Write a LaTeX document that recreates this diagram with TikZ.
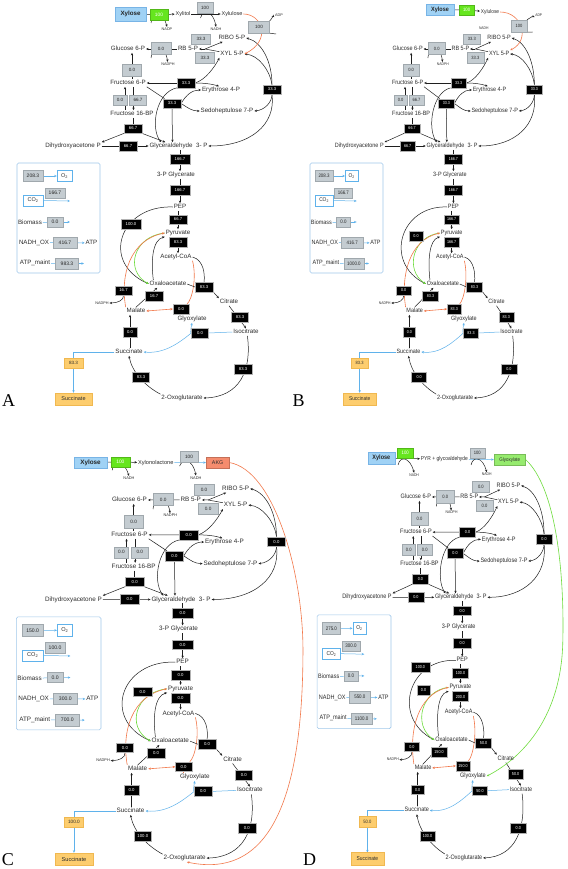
\documentclass[tikz,border=0pt]{standalone}
\usepackage{fontspec}
\setmainfont{Liberation Sans}
\newfontfamily\serifL{Liberation Serif}
\usetikzlibrary{arrows.meta,calc}
\pgfdeclarelayer{bgl}
\pgfdeclarelayer{edges}
\pgfsetlayers{bgl,edges,main}
\definecolor{orL}{RGB}{242,120,75}
\definecolor{grL}{RGB}{110,220,60}
\definecolor{blL}{RGB}{95,178,235}
\definecolor{gyF}{RGB}{196,204,209}
\definecolor{gyD}{RGB}{160,168,173}
\definecolor{xyF}{RGB}{160,210,245}
\definecolor{xyD}{RGB}{120,180,230}
\definecolor{gbF}{RGB}{102,230,30}
\definecolor{suF}{RGB}{253,205,110}
\definecolor{suD}{RGB}{240,184,80}
\definecolor{akF}{RGB}{245,140,110}
\definecolor{glF}{RGB}{150,235,110}
\definecolor{lgD}{RGB}{160,200,235}
\definecolor{txt}{RGB}{45,45,45}
\tikzset{
 lbl/.style={font=\fontsize{6.2}{7}\selectfont, text=txt, inner sep=0.8pt, text height=4.4pt, text depth=1.2pt},
 slbl/.style={font=\fontsize{5.5}{6}\selectfont, text=txt, inner sep=0.8pt, text height=3.9pt, text depth=1.1pt},
 tlbl/.style={font=\fontsize{3.8}{4.2}\selectfont, text=txt, inner sep=0.6pt},
 gbox/.style={fill=gyF, draw=gyD, line width=0.3pt, font=\fontsize{4.6}{5}\selectfont, text=black!85, inner sep=0pt, minimum width=19pt, minimum height=10.5pt},
 lgbox/.style={gbox, font=\fontsize{5}{6}\selectfont, minimum height=11pt},
 bbox/.style={fill=black, draw=gray!60, line width=0.3pt, font=\fontsize{4.2}{5}\selectfont, text=white, inner sep=0pt, minimum width=18pt, minimum height=9.5pt},
 wbox/.style={fill=white, draw=blL, line width=0.4pt, font=\fontsize{5.5}{6}\selectfont, text=txt, inner sep=0pt, minimum width=15pt, minimum height=11pt},
 xbox/.style={fill=xyF, draw=xyD, line width=0.4pt, font=\fontsize{6.2}{7}\selectfont\bfseries, text=black!85, inner sep=0pt},
 grbox/.style={fill=gbF, draw=gbF!80!black, line width=0.3pt, font=\fontsize{4.8}{5}\selectfont, text=white, inner sep=0pt, minimum width=18pt, minimum height=11pt},
 sbox/.style={fill=suF, draw=suD, line width=0.4pt, font=\fontsize{5.5}{6}\selectfont, text=txt, inner sep=0pt, minimum width=37pt, minimum height=12pt},
 slab/.style={sbox, font=\fontsize{4.6}{5}\selectfont, minimum width=19pt, minimum height=10pt},
 akbox/.style={fill=akF, draw=akF!80!black, line width=0.4pt, font=\fontsize{5.2}{6}\selectfont, text=txt, inner sep=0pt, minimum width=22.5pt, minimum height=11.3pt},
 glbox/.style={fill=glF, draw=glF!80!black, line width=0.4pt, font=\fontsize{5}{6}\selectfont, text=txt, inner sep=0pt, minimum width=35.6pt, minimum height=10.3pt},
 lframe/.style={draw=lgD, line width=0.6pt, rounded corners=1.5pt, inner sep=0pt, minimum width=83pt, minimum height=110pt},
 plet/.style={font=\serifL\fontsize{18}{20}\selectfont, inner sep=0pt},
 ln/.style={draw=black!88, line width=0.5pt},
 ar/.style={ln, -{Stealth[length=2.6pt,width=2.3pt]}},
 aro/.style={ar, draw=orL, line width=0.6pt},
 arg/.style={ar, draw=grL, line width=0.6pt},
 arb/.style={ar, draw=blL},
 lnb/.style={ln, draw=blL},
 lno/.style={ln, draw=orL, line width=0.6pt},
 dao/.style={lno, {Stealth[length=2.6pt,width=2.3pt]}-{Stealth[length=2.6pt,width=2.3pt]}},
}
\newcommand\panelbody{%
\node[lbl] (g6p) at (128,49) {Glucose 6-P};
\node[lbl] (rb5p) at (188,49) {RB 5-P};
\node[lbl] (ribo) at (232,38) {RIBO 5-P};
\node[lbl] (xyl5p) at (232,54) {XYL 5-P};
\node[lbl] (f6p) at (128,83) {Fructose 6-P};
\node[lbl] (e4p) at (221,90) {Erythrose 4-P};
\node[lbl] (s7p) at (227,111) {Sedoheptulose 7-P};
\node[lbl] (fbp) at (132,114) {Fructose 16-BP};
\node[lbl] (dhap) at (73,146) {Dihydroxyacetone P};
\node[lbl] (gap) at (178.5,146) {Glyceraldehyde\ \ 3- P};
\node[lbl] (pg) at (176,175) {3-P Glycerate};
\node[lbl] (pep) at (180,207) {PEP};
\node[lbl] (pyr) at (178,233) {Pyruvate};
\node[lbl] (accoa) at (176,257) {Acetyl-CoA};
\node[lbl] (oaa) at (168,284) {Oxaloacetate};
\node[lbl] (cit) at (229,302) {Citrate};
\node[lbl] (mal) at (136,311) {Malate};
\node[lbl] (glx) at (192,319) {Glyoxylate};
\node[lbl] (icit) at (246,332) {Isocitrate};
\node[lbl] (succ) at (129,352) {Succinate};
\node[lbl] (akg) at (182,398) {2-Oxoglutarate};
\node[tlbl] (nadphA) at (168,64) {NADPH};
\node[tlbl] (nadphB) at (102,303) {NADPH};
\node[sbox] (succbox) at (73.5,399) {Succinate};
\node[gbox] (bxRa) at (201,39) {\pvRa};
\node[gbox] (bxRb) at (205,57.5) {\pvRb};
\node[gbox, minimum width=20pt, minimum height=12pt] (bxRB) at (161,48.5) {\pvRB};
\node[gbox, minimum height=12pt] (bxG) at (132,70) {\pvGS};
\node[gbox, minimum width=14pt] (bxFB) at (120,100) {\pvFB};
\node[gbox, minimum width=17pt] (bxPF) at (138,100) {\pvPF};
\node[bbox] (tkA) at (186,83) {\pvTKa};
\node[bbox] (taA) at (172,103.5) {\pvTA};
\node[bbox] (tkB) at (272,89.5) {\pvTKb};
\node[bbox] (fbaA) at (133,128.5) {\pvFA};
\node[bbox] (tpiA) at (128,146) {\pvTP};
\node[bbox, minimum width=20pt] (gapdhA) at (180,159) {\pvGP};
\node[bbox, minimum width=20pt] (enoA) at (180,190) {\pvEN};
\node[bbox] (pykA) at (178,219.5) {\pvPK};
\node[bbox] (pdhA) at (178,242) {\pvPD};
\node[bbox, minimum width=17pt] (meA) at (123.5,290.5) {\pvME};
\node[bbox] (mdhA) at (154,296) {\pvMD};
\node[bbox, minimum width=16pt] (msA) at (181,309) {\pvMS};
\node[bbox] (csA) at (204,287) {\pvCS};
\node[bbox, minimum width=17pt] (acnA) at (240,317) {\pvAC};
\node[bbox, minimum width=17pt] (iclA) at (200,333) {\pvIL};
\node[bbox, minimum width=14pt] (sdhA) at (130,332) {\pvSD};
\node[bbox] (icdA) at (243,369) {\pvID};
\node[bbox, minimum width=17pt] (akgdhA) at (141,377) {\pvKG};
\node[slab] (sxA) at (73.5,363) {\pvSX};
\coordinate (j1) at (205,49);
\coordinate (fu) at (125,0);
\coordinate (fd) at (133.5,0);
\coordinate (cRB) at (151,58);
\node[lframe] (legend) at (58.5,218) {};
\node[lgbox, minimum width=20pt] (oV) at (33,176) {\pvOO};
\node[wbox] (oT) at (64.5,176) {O\textsubscript{2}};
\node[wbox, minimum width=20pt] (coT) at (33,200.5) {CO\textsubscript{2}};
\node[lgbox, minimum width=20pt, minimum height=10pt] (coV) at (55,193) {\pvCO};
\coordinate (coE) at (70,201);
\node[lbl] (bmT) at (30,223) {Biomass};
\node[lgbox, minimum width=16pt, minimum height=10pt] (bmV) at (55,222) {\pvBM};
\coordinate (bmE) at (70,222);
\node[lbl] (noT) at (34,243) {NADH\_OX};
\node[lgbox, minimum width=24pt] (noV) at (65,242.5) {\pvNO};
\node[lbl] (atpT) at (91.5,243) {ATP};
\node[lbl] (amT) at (35,263) {ATP\_maint};
\node[lgbox, minimum width=23pt] (amV) at (67,263.5) {\pvAM};
\coordinate (amE) at (84,263.5);
\begin{pgfonlayer}{edges}
\draw[ar] (rb5p) -- (g6p);
\draw[ar] (cRB) .. controls (152,44) and (165,44) .. (nadphA);
\draw[ln] (xyl5p) -- (j1);
\draw[ar] (j1) -- (ribo);
\draw[ar] (j1) -- (rb5p);
\draw[ar] (f6p.north -| bxG) -- (g6p.south -| bxG);
\draw[ar] (fbp.north -| fu) -- (f6p.south -| fu);
\draw[ar] (f6p.south -| fd) -- (fbp.north -| fd);
\draw[ar] (tkA) -- (f6p);
\draw[ar] (tkA.east) .. controls (205,80) and (214,68) .. (xyl5p.south west);
\draw[ar] (tkA.east) .. controls (204,83) and (212,84) .. ($(e4p.north west)!0.45!(e4p.north east)$);
\draw[ar] (tkA.south west) .. controls (156,92) and (150,128) .. ($(gap.north west)!0.21!(gap.north east)$);
\draw[ln] (f6p.south east) -- (taA);
\draw[ar] (taA.east) .. controls (186,95) and (192,90) .. (e4p.west);
\draw[ar] (taA.east) .. controls (188,108) and (192,111) .. (s7p.west);
\draw[ar] (taA.south) -- ($(gap.north west)!0.4!(gap.north east)$);
\draw[ar] (tkB.north) .. controls (272,62) and (262,42) .. (ribo.east);
\draw[ar] (tkB.north) .. controls (270,70) and (258,55) .. (xyl5p.east);
\draw[ar] (tkB.south) .. controls (272,102) and (265,110) .. (s7p.east);
\draw[ar] (tkB.south) .. controls (276,125) and (250,146) .. (gap.east);
\draw[ln] (fbp.south -| fbaA) -- (fbaA.north);
\draw[ar] (fbaA.south west) -- (dhap.north east);
\draw[ar] (fbaA.south east) -- ($(gap.north west)!0.28!(gap.north east)$);
\draw[ar] (dhap) -- (gap);
\draw[ar] (gap.south -| gapdhA) -- (pg.north -| gapdhA);
\draw[ar] (pg.south -| enoA) -- (pep.north -| enoA);
\draw[ar] (pep.south -| pykA) -- (pyr.north -| pykA);
\draw[ar] (pyr.south -| pdhA) -- (accoa.north -| pdhA);
\draw[ar] (pep.west) .. controls (120,205) and (100,262) .. (oaa.west);
\draw[arg] (pyr.west) .. controls (134,236) and (124,270) .. (oaa.west);
\draw[ar] ($(oaa.north west)!0.12!(oaa.north east)$) .. controls (151,262) and (152,240) .. (pyr.south west);
\draw[aro] (mal.north west) .. controls (120,275) and (130,240) .. (pyr.west);
\draw[ar] (meA.south) .. controls (124,300) and (118,303) .. (nadphB.east);
\draw[ar] (mal.north) -- ($(oaa.south west)!0.22!(oaa.south east)$);
\draw[lno] (accoa.south east) .. controls (197,278) and (192,300) .. (msA);
\draw[dao] (mal.east) -- (msA.west);
\draw[lno] (glx.north -| msA) -- (msA.south);
\draw[ln] (oaa.east) -- (csA.west);
\draw[ln] (accoa.east) .. controls (204,260) and (205,275) .. (csA.north);
\draw[ar] (csA.south east) -- (cit.north west);
\draw[ar] (cit.south) -- (icit.north);
\draw[lnb] (icit.west) -- (iclA.east);
\draw[arb] (iclA.west) .. controls (190,333) and (191,328) .. (glx.south);
\draw[arb] (iclA.west) .. controls (180,342) and (165,354) .. (succ.east);
\draw[ar] (succ.north -| sdhA) -- (mal.south -| sdhA);
\draw[ar] ($(icit.south west)!0.55!(icit.south east)$) .. controls (252,370) and (240,397) .. (akg.east);
\draw[ar] (akg.north west) .. controls (145,386) and (132,372) .. (succ.south);
\draw[arb] (succ.west) -| (succbox.north);
\draw[arb] (oV) -- (oT);
\draw[arb] (coT.east) -- (coE);
\draw[lnb] (bmT) -- (bmV);
\draw[arb] (bmV) -- (bmE);
\draw[lnb] (noT) -- (noV);
\draw[arb] (noV) -- (atpT);
\draw[lnb] (amT) -- (amV);
\draw[arb] (amV) -- (amE);
\end{pgfonlayer}
}
\begin{document}
\begin{tikzpicture}[x=1pt,y=-1pt]
\useasboundingbox (0,0) rectangle (567,869);
\begin{pgfonlayer}{bgl}
\fill[white] (0,0) rectangle (567,869);
\end{pgfonlayer}
% ---------------- Panel A
\begin{scope}[name prefix=A-]
\def\pvRa{33.3}\def\pvRb{33.3}\def\pvRB{0.0}\def\pvGS{0.0}\def\pvFB{0.0}\def\pvPF{66.7}
\def\pvTKa{33.3}\def\pvTA{33.3}\def\pvTKb{33.3}\def\pvFA{66.7}\def\pvTP{66.7}
\def\pvGP{166.7}\def\pvEN{166.7}\def\pvPK{66.7}\def\pvPD{83.3}
\def\pvME{16.7}\def\pvMD{16.7}\def\pvMS{0.0}\def\pvCS{83.3}\def\pvAC{83.3}
\def\pvIL{0.0}\def\pvSD{0.0}\def\pvID{83.3}\def\pvKG{83.3}\def\pvSX{83.3}
\def\pvOO{208.3}\def\pvCO{166.7}\def\pvBM{0.0}\def\pvNO{416.7}\def\pvAM{983.3}
\panelbody
\node[bbox, minimum width=20pt] (pckA) at (131,224) {100.0};
\node[xbox, minimum width=31pt, minimum height=14pt] (xylose) at (130.5,14) {Xylose};
\node[grbox] (xr) at (159,14.5) {100};
\node[slbl] (xylitol) at (183,14) {Xylitol};
\node[gbox, minimum width=16pt, minimum height=11pt] (xd) at (205,7.5) {100};
\node[slbl] (xylu) at (232,14) {Xylulose};
\node[gbox, minimum width=21pt, minimum height=12pt] (xk) at (259,27) {100};
\node[tlbl] (adp) at (279,15) {ADP};
\node[tlbl] (nadpT) at (167,29) {NADP};
\node[tlbl] (nadhT) at (216,29) {NADH};
\coordinate (cX1) at (151,23);
\coordinate (cX2) at (200.5,18);
\coordinate (cX3) at (276,34);
\begin{pgfonlayer}{edges}
\draw[ln] (xylose) -- (xr);
\draw[ar] (xr) -- (xylitol);
\draw[ar] (cX1) .. controls (152,11) and (163,11) .. (nadpT.north);
\draw[ar] (xylitol) -- (xylu);
\draw[ar] (cX2) .. controls (203,9) and (213,10) .. (nadhT.north);
\draw[aro] (xylu.east) .. controls (262,14) and (272,40) .. (xyl5p.east);
\draw[ar] (xk.north east) .. controls (271,20) and (273,16) .. (adp.south west);
\draw[ln] (xk.south east) -- (cX3);
\end{pgfonlayer}
\end{scope}
% ---------------- Panel B
\begin{scope}[name prefix=B-, shift={(295,0)}, xscale=0.88, transform shape]
\def\pvRa{33.3}\def\pvRb{33.3}\def\pvRB{0.0}\def\pvGS{0.0}\def\pvFB{0.0}\def\pvPF{66.7}
\def\pvTKa{33.3}\def\pvTA{33.3}\def\pvTKb{33.3}\def\pvFA{66.7}\def\pvTP{66.7}
\def\pvGP{166.7}\def\pvEN{166.7}\def\pvPK{166.7}\def\pvPD{166.7}
\def\pvME{0.0}\def\pvMD{83.3}\def\pvMS{83.3}\def\pvCS{83.3}\def\pvAC{83.3}
\def\pvIL{83.3}\def\pvSD{0.0}\def\pvID{0.0}\def\pvKG{0.0}\def\pvSX{83.3}
\def\pvOO{208.3}\def\pvCO{166.7}\def\pvBM{0.0}\def\pvNO{416.7}\def\pvAM{1000.0}
\panelbody
\node[bbox, minimum width=16pt] (ppcA) at (137.5,236) {0.0};
\node[xbox, minimum width=32pt, minimum height=11pt] (xylose) at (164.8,9.5) {Xylose};
\node[grbox, minimum width=17pt, minimum height=10pt] (xr) at (195,10) {100};
\node[slbl] (xylu) at (221.6,12) {Xylulose};
\node[gbox, minimum width=18pt, minimum height=12pt] (xk) at (254.5,26) {100};
\node[tlbl] (adp) at (277,15) {ADP};
\node[tlbl] (nadhT) at (214.5,28) {NADH};
\coordinate (cX3) at (270,32);
\begin{pgfonlayer}{edges}
\draw[ln] (xylose) -- (xr);
\draw[ar] (xr) -- (xylu);
\draw[aro] (xylu.east) .. controls (258,12) and (268,40) .. (xyl5p.north east);
\draw[ar] (xk.north east) .. controls (266,19) and (269,16) .. (adp.south west);
\draw[ln] (xk.south east) -- (cX3);
\end{pgfonlayer}
\end{scope}
% ---------------- Panel C
\begin{scope}[name prefix=C-, shift={(-1,449.7)}, xscale=1.02, yscale=1.026, transform shape]
\def\pvRa{0.0}\def\pvRb{0.0}\def\pvRB{0.0}\def\pvGS{0.0}\def\pvFB{0.0}\def\pvPF{0.0}
\def\pvTKa{0.0}\def\pvTA{0.0}\def\pvTKb{0.0}\def\pvFA{0.0}\def\pvTP{0.0}
\def\pvGP{0.0}\def\pvEN{0.0}\def\pvPK{0.0}\def\pvPD{0.0}
\def\pvME{0.0}\def\pvMD{0.0}\def\pvMS{0.0}\def\pvCS{0.0}\def\pvAC{0.0}
\def\pvIL{0.0}\def\pvSD{0.0}\def\pvID{0.0}\def\pvKG{100.0}\def\pvSX{100.0}
\def\pvOO{150.0}\def\pvCO{100.0}\def\pvBM{0.0}\def\pvNO{300.0}\def\pvAM{700.0}
\panelbody
\node[bbox, minimum width=18pt] (ppcA) at (140.7,235.7) {0.0};
\node[xbox, minimum width=32pt, minimum height=11.3pt] (xylose) at (89.7,12.5) {Xylose};
\node[grbox, minimum width=18.6pt, minimum height=10pt] (xr) at (119,12) {100};
\node[slbl] (xlac) at (153.7,12.7) {Xylonolactone};
\node[gbox, minimum width=17.5pt, minimum height=10pt] (xd) at (186.3,6.8) {100};
\node[akbox] (akgB) at (214.3,12.5) {AKG};
\node[tlbl] (nadhT1) at (127.4,27.6) {NADH};
\node[tlbl] (nadhT2) at (193,27.3) {NADH};
\coordinate (cX1) at (111,20);
\coordinate (cX2) at (177,16);
\begin{pgfonlayer}{edges}
\draw[ln] (xylose) -- (xr);
\draw[ar] (xr) -- (xlac);
\draw[ar] (cX1) .. controls (112,9) and (122,9) .. (nadhT1.north);
\draw[arb] (xlac) -- (akgB);
\draw[ar] (cX2) .. controls (180,8) and (190,9) .. (nadhT2.north);
\draw[aro] (akgB.east) .. controls (270,20) and (298,120) .. (298,195) .. controls (298,330) and (270,420) .. ($(akg.south west)!0.55!(akg.south east)$);
\end{pgfonlayer}
\end{scope}
% ---------------- Panel D
\begin{scope}[name prefix=D-, shift={(302,446.3)}, xscale=0.89, yscale=1.034, transform shape]
\def\pvRa{0.0}\def\pvRb{0.0}\def\pvRB{0.0}\def\pvGS{0.0}\def\pvFB{0.0}\def\pvPF{0.0}
\def\pvTKa{0.0}\def\pvTA{0.0}\def\pvTKb{0.0}\def\pvFA{0.0}\def\pvTP{0.0}
\def\pvGP{0.0}\def\pvEN{0.0}\def\pvPK{100.0}\def\pvPD{200.0}
\def\pvME{0.0}\def\pvMD{150.0}\def\pvMS{150.0}\def\pvCS{50.0}\def\pvAC{50.0}
\def\pvIL{50.0}\def\pvSD{0.0}\def\pvID{0.0}\def\pvKG{100.0}\def\pvSX{50.0}
\def\pvOO{275.0}\def\pvCO{300.0}\def\pvBM{0.0}\def\pvNO{550.0}\def\pvAM{1100.0}
\panelbody
\node[bbox, minimum width=21pt] (pckA) at (133,213.4) {100.0};
\node[bbox, minimum width=15pt] (ppcA) at (136.5,235.7) {0.0};
\node[xbox, minimum width=30pt, minimum height=11.6pt] (xylose) at (89.2,11.6) {Xylose};
\node[grbox, minimum width=17.7pt, minimum height=9.6pt] (xr) at (116,6.2) {100};
\node[slbl] (pyrg) at (160,12.3) {PYR + glycoaldehyde};
\node[gbox, minimum width=17pt, minimum height=9.7pt] (xd) at (196.9,6.8) {100};
\node[glbox] (glxB) at (233.5,13) {Glyoxylate};
\node[tlbl] (nadhT1) at (126,27.7) {NADH};
\node[tlbl] (nadhT2) at (207.6,27.2) {NADH};
\coordinate (cX1) at (108,18);
\coordinate (cX2) at (190,18);
\begin{pgfonlayer}{edges}
\draw[ar] (xylose) -- (pyrg);
\draw[ar] (cX1) .. controls (110,9) and (121,10) .. (nadhT1.north);
\draw[arb] (pyrg) -- (glxB);
\draw[ar] (cX2) .. controls (192,9) and (203,10) .. (nadhT2.north);
\draw[arg] (glxB.east) .. controls (285,40) and (295,120) .. (293,190) .. controls (291,260) and (250,300) .. (glx.east);
\end{pgfonlayer}
\end{scope}
% panel letters
\node[plet] (LA) at (8.5,401) {A};
\node[plet] (LB) at (298.5,401) {B};
\node[plet] (LC) at (8,860) {C};
\node[plet] (LD) at (309.5,860) {D};
\end{tikzpicture}
\end{document}
